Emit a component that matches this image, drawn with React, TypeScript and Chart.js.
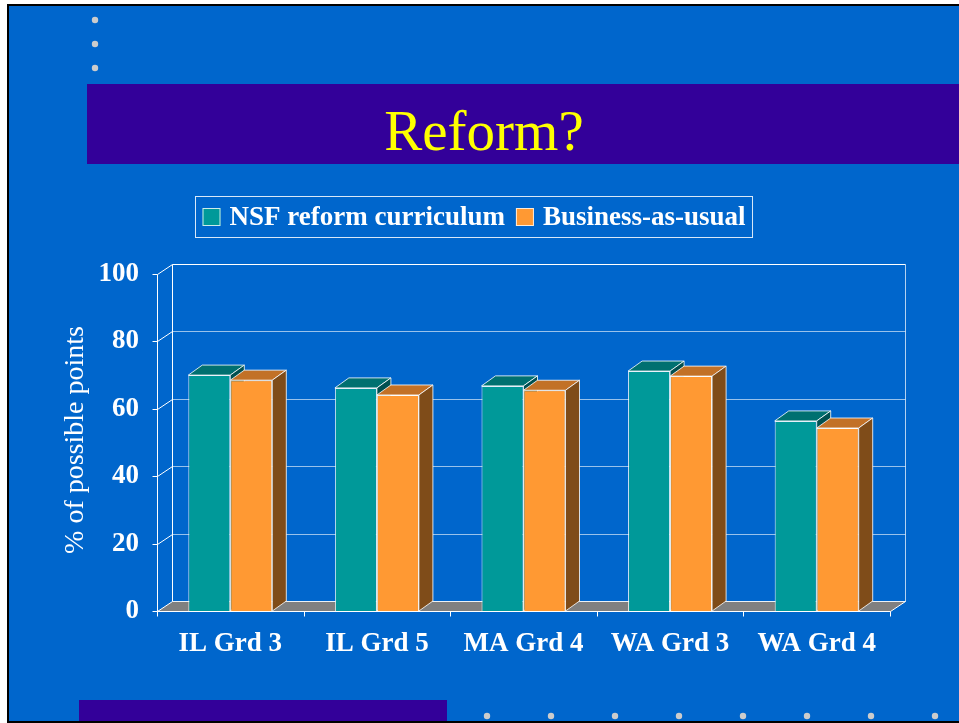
import React, { useEffect, useRef } from 'react';
import { Chart, registerables } from 'chart.js';

Chart.register(...registerables);

// ---- data ----
const categories = ['IL Grd 3', 'IL Grd 5', 'MA Grd 4', 'WA Grd 3', 'WA Grd 4'];
const nsfValues = [70.0, 66.2, 66.8, 71.2, 56.4];
const bauValues = [68.5, 64.1, 65.5, 69.7, 54.3];
const seriesLabels = ['NSF reform curriculum', 'Business-as-usual'];
const yTicks = [0, 20, 40, 60, 80, 100];
const titleText = 'Reform?';
const yAxisTitle = '% of possible points';

// ---- style ----
const SERIF = "'Liberation Serif', 'Times New Roman', serif";
const FRONT = ['#009999', '#ff9933'];
const TOPC = ['#007070', '#c27127'];
const SIDE = ['#005050', '#7f4c19'];
const WDX = 15, WDY = -10;
const BDX = 14, BDY = -10;

function poly(ctx: CanvasRenderingContext2D, pts: number[][], fill: string, stroke?: string) {
  ctx.beginPath();
  ctx.moveTo(pts[0][0], pts[0][1]);
  for (let i = 1; i < pts.length; i++) ctx.lineTo(pts[i][0], pts[i][1]);
  ctx.closePath();
  ctx.fillStyle = fill;
  ctx.fill();
  if (stroke) {
    ctx.strokeStyle = stroke;
    ctx.lineWidth = 1;
    ctx.stroke();
  }
}

function line(ctx: CanvasRenderingContext2D, x1: number, y1: number, x2: number, y2: number, c: string) {
  ctx.beginPath();
  ctx.moveTo(x1, y1);
  ctx.lineTo(x2, y2);
  ctx.strokeStyle = c;
  ctx.lineWidth = 1;
  ctx.stroke();
}

function drawFaces(ctx: CanvasRenderingContext2D, el: any, di: number) {
  const p = el.getProps(['x', 'y', 'base', 'width'], true);
  const l = p.x - p.width / 2;
  const r = p.x + p.width / 2;
  const t = p.y;
  const b = p.base;
  poly(ctx, [[l, t], [l + BDX, t + BDY], [r + BDX, t + BDY], [r, t]], TOPC[di], 'rgba(255,255,255,0.8)');
  poly(ctx, [[r, t], [r + BDX, t + BDY], [r + BDX, b + BDY], [r, b]], SIDE[di], 'rgba(255,255,255,0.8)');
}

const slidePlugin = {
  id: 'slide',
  beforeDraw(chart: any) {
    const ctx: CanvasRenderingContext2D = chart.ctx;
    const W = chart.width, H = chart.height;
    ctx.save();
    ctx.fillStyle = '#ffffff';
    ctx.fillRect(0, 0, W, H);
    ctx.fillStyle = '#000000';
    ctx.fillRect(7, 4, W - 7, H - 4);
    ctx.fillStyle = '#0066cc';
    ctx.fillRect(9, 6, W - 9, H - 8);
    ctx.fillStyle = '#330099';
    ctx.fillRect(87, 84, W - 87, 80);
    ctx.fillRect(79, 700, 368, 21);
    ctx.fillStyle = '#cccccc';
    [20, 44, 68].forEach((y) => {
      ctx.beginPath();
      ctx.arc(95, y, 3.2, 0, Math.PI * 2);
      ctx.fill();
    });
    [487, 551, 615, 679, 743, 807, 871, 935].forEach((x) => {
      ctx.beginPath();
      ctx.arc(x, 716, 3.2, 0, Math.PI * 2);
      ctx.fill();
    });
    // title
    ctx.fillStyle = '#ffff00';
    ctx.font = `57px ${SERIF}`;
    ctx.textAlign = 'center';
    ctx.textBaseline = 'alphabetic';
    ctx.fillText(titleText, 484, 150);
    // y axis title
    ctx.save();
    ctx.translate(76, 440);
    ctx.rotate(-Math.PI / 2);
    ctx.font = `28px ${SERIF}`;
    ctx.fillStyle = '#ffffff';
    ctx.textBaseline = 'middle';
    ctx.fillText(yAxisTitle, 0, 0);
    ctx.restore();
    // legend
    ctx.font = `bold 27px ${SERIF}`;
    const ds = chart.data.datasets;
    const sw = 18, gap = 9, itemGap = 11, pad = 7;
    const widths = ds.map((d: any) => ctx.measureText(d.label).width);
    let total = pad * 2;
    widths.forEach((w: number, i: number) => {
      total += sw + gap + w + (i < widths.length - 1 ? itemGap : 0);
    });
    const cx = 473.5;
    const bx = Math.round(cx - total / 2) + 0.5;
    ctx.strokeStyle = 'rgba(255,255,255,0.85)';
    ctx.lineWidth = 1;
    ctx.strokeRect(bx, 196.5, total, 41);
    let x = bx + pad;
    const cy = 217;
    ds.forEach((d: any, i: number) => {
      ctx.fillStyle = d.backgroundColor;
      ctx.fillRect(x, cy - 9, sw, sw);
      ctx.strokeStyle = 'rgba(255,255,255,0.8)';
      ctx.strokeRect(x + 0.5, cy - 8.5, sw - 1, sw - 1);
      x += sw + gap;
      ctx.fillStyle = '#ffffff';
      ctx.textAlign = 'left';
      ctx.textBaseline = 'middle';
      ctx.fillText(d.label, x, cy + 1);
      x += widths[i] + itemGap;
    });
    ctx.restore();
  },
  beforeDatasetsDraw(chart: any) {
    const ctx: CanvasRenderingContext2D = chart.ctx;
    const { left, right, top, bottom } = chart.chartArea;
    const ys = chart.scales.y;
    ctx.save();
    const L = Math.round(left) + 0.5, R = Math.round(right) + 0.5;
    const B = Math.round(bottom) + 0.5, T = Math.round(top) + 0.5;
    // floor
    poly(ctx, [[L, B], [L + WDX, B + WDY], [R + WDX, B + WDY], [R, B]], '#808080');
    line(ctx, L + WDX, B + WDY, R + WDX, B + WDY, 'rgba(255,255,255,0.9)');
    // gridlines on back wall
    yTicks.forEach((v) => {
      const py = Math.round(ys.getPixelForValue(v)) + 0.5;
      if (v > 0 && v < 100) line(ctx, L + WDX, py + WDY, R + WDX, py + WDY, 'rgba(255,255,255,0.6)');
      line(ctx, L, py, L + WDX, py + WDY, '#ffffff');
      line(ctx, L - 5, py, L, py, '#ffffff');
    });
    // back wall border
    line(ctx, L + WDX, T + WDY, R + WDX, T + WDY, '#ffffff');
    line(ctx, L + WDX, T + WDY, L + WDX, B + WDY, '#ffffff');
    line(ctx, R + WDX, T + WDY, R + WDX, B + WDY, 'rgba(255,255,255,0.7)');
    // front y axis
    line(ctx, L, T, L, B, '#ffffff');
    // front x axis + right diagonal
    line(ctx, L, B, R, B, '#ffffff');
    line(ctx, R, B, R + WDX, B + WDY, '#ffffff');
    const n = categories.length;
    for (let i = 0; i <= n; i++) {
      const px = Math.round(left + ((right - left) * i) / n) + 0.5;
      line(ctx, px, B, px, B + 5, '#ffffff');
    }
    ctx.restore();
  },
  afterDatasetsDraw(chart: any) {
    const ctx: CanvasRenderingContext2D = chart.ctx;
    const m0 = chart.getDatasetMeta(0);
    const m1 = chart.getDatasetMeta(1);
    ctx.save();
    // teal faces, then orange front re-drawn over teal side, then orange faces
    m0.data.forEach((el: any) => drawFaces(ctx, el, 0));
    m1.data.forEach((el: any) => el.draw(ctx, chart.chartArea));
    m1.data.forEach((el: any) => drawFaces(ctx, el, 1));
    ctx.restore();
  },
};

export default function App() {
  const ref = useRef<HTMLCanvasElement | null>(null);
  useEffect(() => {
    document.body.style.margin = '0';
    const canvas = ref.current;
    if (!canvas) return;
    const chart = new Chart(canvas, {
      type: 'bar',
      data: {
        labels: categories,
        datasets: [
          {
            label: seriesLabels[0],
            data: nsfValues,
            backgroundColor: FRONT[0],
            borderColor: 'rgba(255,255,255,0.85)',
            borderWidth: 1,
            categoryPercentage: 0.573,
            barPercentage: 1,
          },
          {
            label: seriesLabels[1],
            data: bauValues,
            backgroundColor: FRONT[1],
            borderColor: 'rgba(255,255,255,0.85)',
            borderWidth: 1,
            categoryPercentage: 0.573,
            barPercentage: 1,
          },
        ],
      },
      options: {
        responsive: false,
        animation: false,
        events: [],
        devicePixelRatio: 1,
        layout: { padding: { top: 274, left: 97, right: 69, bottom: 62 } },
        plugins: {
          legend: { display: false },
          title: { display: false },
          tooltip: { enabled: false },
        },
        scales: {
          x: {
            grid: { display: false },
            border: { display: false },
            ticks: {
              color: '#ffffff',
              font: { family: SERIF, size: 27, weight: 'bold' },
              padding: 9,
              maxRotation: 0,
            },
            afterFit: (s: any) => {
              s.height = 50;
            },
          },
          y: {
            min: 0,
            max: 100,
            grid: { display: false },
            border: { display: false },
            ticks: {
              stepSize: 20,
              color: '#ffffff',
              font: { family: SERIF, size: 27, weight: 'bold' },
              padding: 10,
            },
            afterFit: (s: any) => {
              s.width = 60;
            },
          },
        },
      } as any,
      plugins: [slidePlugin],
    });
    return () => chart.destroy();
  }, []);
  return <canvas ref={ref} width={959} height={723} style={{ display: 'block' }} />;
}
